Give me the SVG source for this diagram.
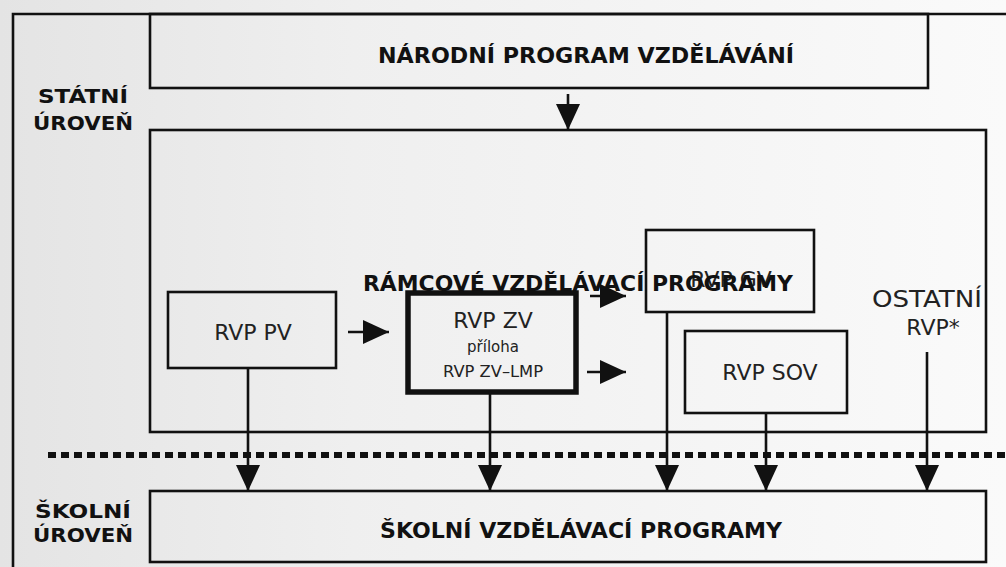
<svg xmlns="http://www.w3.org/2000/svg" width="1006" height="567" viewBox="0 0 1006 567">
<defs>
<linearGradient id="bg" x1="0" y1="0" x2="1" y2="0">
<stop offset="0" stop-color="#e4e4e4"/>
<stop offset="0.35" stop-color="#efefef"/>
<stop offset="1" stop-color="#fafafa"/>
</linearGradient>
<marker id="ah" viewBox="0 0 26 24" refX="26" refY="12" markerWidth="26" markerHeight="24" markerUnits="userSpaceOnUse" orient="auto">
<path d="M0,0 L26,12 L0,24 Z" fill="#111"/>
</marker>
<style>
.box{fill:none;stroke:#111;stroke-width:2.6}
.thick{fill:none;stroke:#111;stroke-width:5.5}
.con{fill:none;stroke:#111;stroke-width:2.6}
.b{font-family:"DejaVu Sans",Verdana,sans-serif;font-weight:bold;fill:#111}
.r{font-family:"DejaVu Sans",Verdana,sans-serif;fill:#222}
</style>
</defs>
<rect x="0" y="0" width="1006" height="567" fill="url(#bg)"/>
<g id="frame">
<path d="M13,567 L13,14 L1006,14" class="box"/>
</g>
<g id="level-state">
<text class="b" x="83" y="103" font-size="19" text-anchor="middle" textLength="90" lengthAdjust="spacingAndGlyphs">STÁTNÍ</text>
<text class="b" x="83" y="130" font-size="19" text-anchor="middle" textLength="100" lengthAdjust="spacingAndGlyphs">ÚROVEŇ</text>
</g>
<g id="level-school">
<text class="b" x="83" y="518" font-size="19" text-anchor="middle" textLength="96" lengthAdjust="spacingAndGlyphs">ŠKOLNÍ</text>
<text class="b" x="83" y="542" font-size="19" text-anchor="middle" textLength="100" lengthAdjust="spacingAndGlyphs">ÚROVEŇ</text>
</g>
<g id="npv">
<rect x="150" y="14" width="778" height="74" class="box"/>
<text class="b" x="586" y="63" font-size="22" text-anchor="middle" textLength="416" lengthAdjust="spacingAndGlyphs">NÁRODNÍ PROGRAM VZDĚLÁVÁNÍ</text>
</g>
<g id="rvp-frame">
<rect x="150" y="130" width="836" height="302" class="box"/>
</g>
<g id="rvp-gv">
<rect x="646" y="230" width="168" height="82" class="box"/>
<text class="r" x="731" y="287" font-size="22" text-anchor="middle">RVP GV</text>
</g>
<g id="rvp-frame-label">
<text class="b" x="578" y="291" font-size="22" text-anchor="middle" textLength="430" lengthAdjust="spacingAndGlyphs">RÁMCOVÉ VZDĚLÁVACÍ PROGRAMY</text>
</g>
<g id="rvp-pv">
<rect x="168" y="292" width="168" height="76" class="box"/>
<text class="r" x="253" y="340" font-size="22" text-anchor="middle">RVP PV</text>
</g>
<g id="rvp-zv">
<rect x="408" y="293" width="168" height="99" class="thick"/>
<text class="r" x="493" y="328" font-size="22" text-anchor="middle">RVP ZV</text>
<text class="r" x="493" y="352" font-size="15" text-anchor="middle">příloha</text>
<text class="r" x="493" y="377" font-size="16" text-anchor="middle" textLength="100" lengthAdjust="spacingAndGlyphs">RVP ZV–LMP</text>
</g>
<g id="rvp-sov">
<rect x="685" y="331" width="162" height="82" class="box"/>
<text class="r" x="770" y="380" font-size="22" text-anchor="middle">RVP SOV</text>
</g>
<g id="rvp-other">
<text class="r" x="927" y="307" font-size="23" text-anchor="middle" textLength="110" lengthAdjust="spacingAndGlyphs">OSTATNÍ</text>
<text class="r" x="933" y="335" font-size="22" text-anchor="middle">RVP*</text>
</g>
<g id="svp">
<rect x="150" y="491" width="836" height="71" class="box"/>
<text class="b" x="581" y="538" font-size="22" text-anchor="middle" textLength="402" lengthAdjust="spacingAndGlyphs">ŠKOLNÍ VZDĚLÁVACÍ PROGRAMY</text>
</g>
<g id="divider">
<line x1="48" y1="455" x2="1006" y2="455" stroke="#111" stroke-width="6" stroke-dasharray="8 5"/>
</g>
<g id="connectors">
<line x1="568" y1="94" x2="568" y2="130" class="con" marker-end="url(#ah)"/>
<line x1="348" y1="332" x2="389" y2="332" class="con" marker-end="url(#ah)"/>
<line x1="590" y1="296" x2="626" y2="296" class="con" marker-end="url(#ah)"/>
<line x1="587" y1="372" x2="626" y2="372" class="con" marker-end="url(#ah)"/>
<line x1="248" y1="368" x2="248" y2="491" class="con" marker-end="url(#ah)"/>
<line x1="490" y1="392" x2="490" y2="491" class="con" marker-end="url(#ah)"/>
<line x1="667" y1="312" x2="667" y2="491" class="con" marker-end="url(#ah)"/>
<line x1="766" y1="413" x2="766" y2="491" class="con" marker-end="url(#ah)"/>
<line x1="927" y1="352" x2="927" y2="491" class="con" marker-end="url(#ah)"/>
</g>
</svg>
